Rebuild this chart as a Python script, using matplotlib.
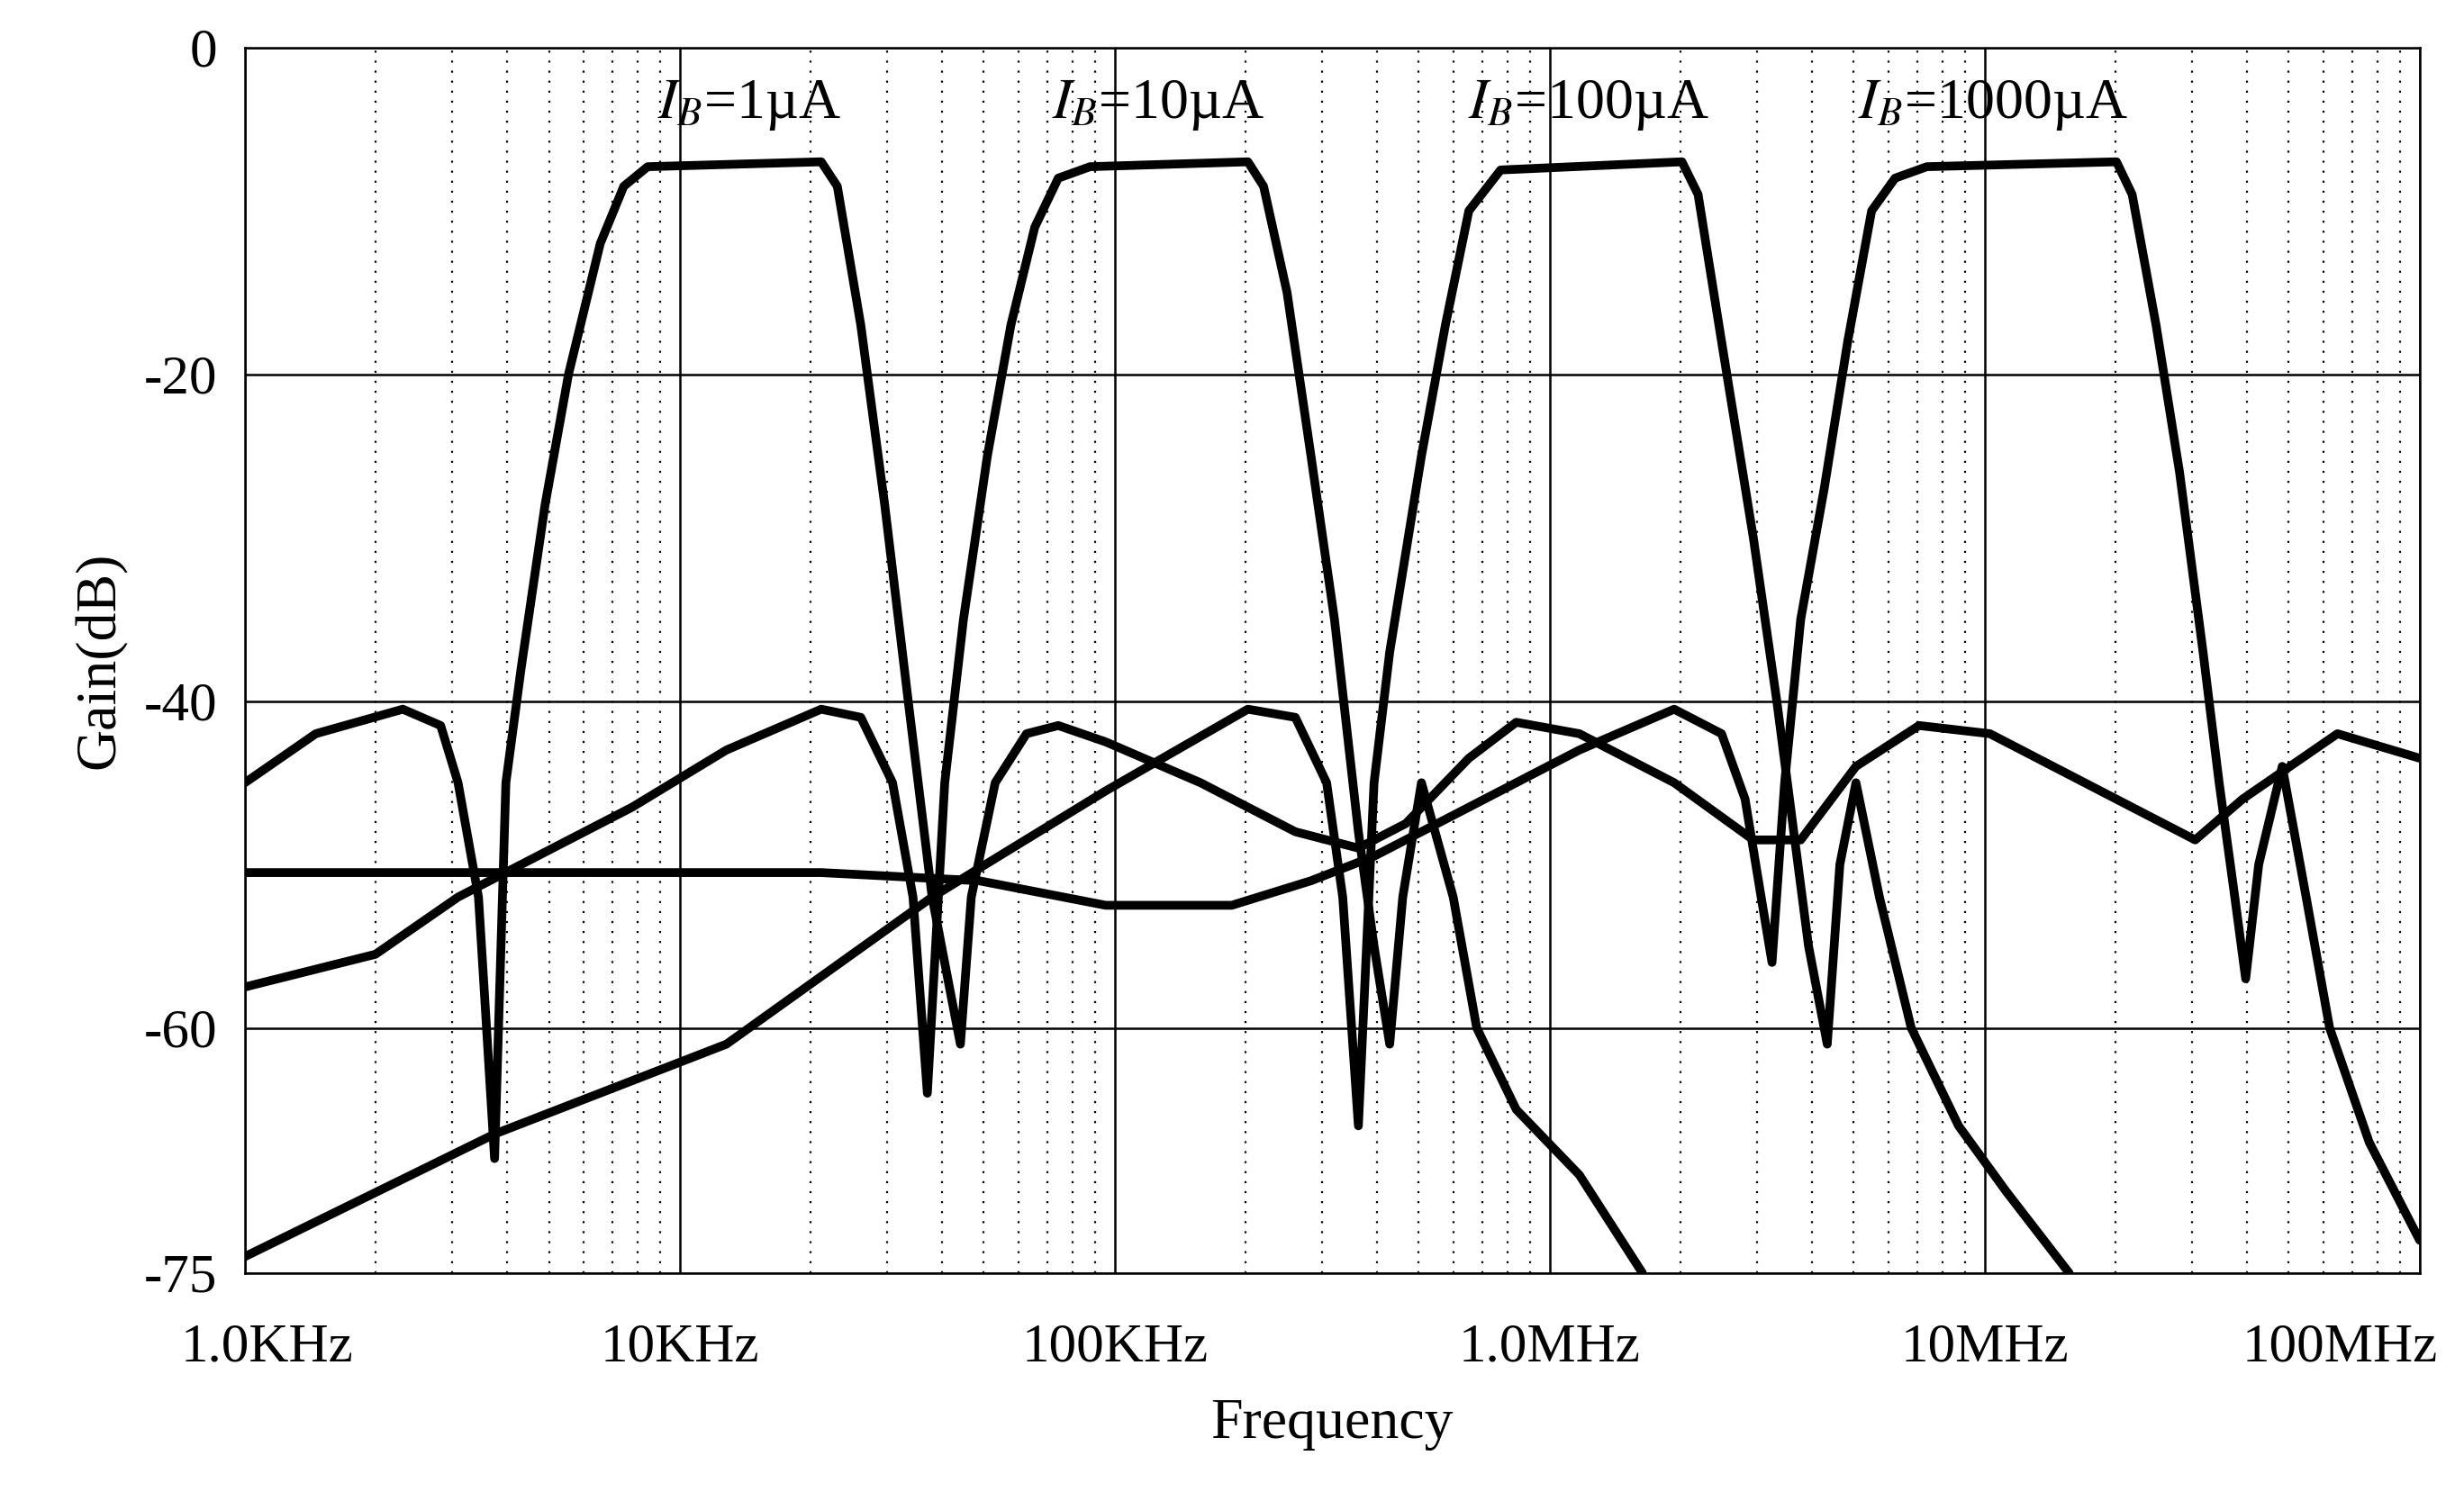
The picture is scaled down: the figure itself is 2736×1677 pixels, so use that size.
import numpy as np
import matplotlib
matplotlib.use("Agg")
import matplotlib.pyplot as plt
import matplotlib.transforms as mtransforms

plt.rcParams['font.family'] = ['Liberation Serif', 'DejaVu Serif']
plt.rcParams['mathtext.fontset'] = 'stix'

# log10(frequency in Hz) and gain in dB for each bias current
bp1_logf = [3.0, 3.163, 3.363, 3.45, 3.49, 3.537, 3.574, 3.600, 3.635, 3.690, 3.744, 3.817, 3.871, 3.926,
            4.325, 4.362, 4.416, 4.471, 4.525, 4.580, 4.616, 4.645, 4.670, 4.725, 4.797, 4.870, 4.979,
            5.197, 5.415, 5.560, 5.669, 5.814, 5.923, 6.068, 6.286, 6.468, 6.577, 6.704, 6.849, 7.012,
            7.266, 7.484, 7.593, 7.811, 8.0]
bp1_db = [-45, -42, -40.5, -41.5, -45, -52, -68, -45, -38, -28, -20, -12, -8.5, -7.3,
          -7, -8.5, -17, -28, -40, -52, -57, -61, -52, -45, -42, -41.5, -42.5,
          -45, -48, -49, -47.5, -43.5, -41.3, -42, -45, -48.5, -48.5, -44, -41.5, -42,
          -45.5, -48.5, -46, -42, -43.5]

bp2_logf = [3.0, 3.3, 3.49, 3.890, 4.107, 4.325, 4.416, 4.489, 4.536, 4.569, 4.609, 4.652, 4.707,
            4.761, 4.816, 4.870, 4.943, 5.306, 5.342, 5.396, 5.451, 5.505, 5.560, 5.596, 5.632,
            5.662, 5.705, 5.778, 5.832, 5.923, 6.068, 6.213]
bp2_db = [-57.5, -55.5, -52, -46.5, -43, -40.5, -41, -45, -52, -64, -45, -35, -25,
          -17, -11, -8, -7.3, -7, -8.5, -15, -25, -35, -48, -55, -61,
          -52, -45, -52, -60, -65, -69, -75]

bp3_logf = [3.0, 3.574, 4.107, 4.580, 4.979, 5.306, 5.415, 5.487, 5.524, 5.560, 5.596, 5.632, 5.705,
            5.760, 5.814, 5.887, 6.304, 6.341, 6.395, 6.468, 6.522, 6.595, 6.638, 6.667, 6.704,
            6.758, 6.831, 6.940, 7.049, 7.194]
bp3_db = [-74, -66.5, -61, -52, -45.5, -40.5, -41, -45, -52, -66, -45, -37, -25,
          -17, -10, -7.5, -7, -9, -18, -30, -40, -55, -61, -50, -45,
          -52, -60, -66, -70, -75]

bp4_logf = [3.0, 4.325, 4.688, 4.979, 5.269, 5.451, 5.596, 5.814, 6.068, 6.286, 6.395, 6.449, 6.486,
            6.511, 6.540, 6.577, 6.631, 6.685, 6.740, 6.794, 6.867, 7.303, 7.339, 7.394, 7.448,
            7.502, 7.539, 7.575, 7.600, 7.630, 7.684, 7.739, 7.793, 7.884, 8.0]
bp4_db = [-50.5, -50.5, -51, -52.5, -52.5, -51, -49.5, -46.5, -43, -40.5, -42, -46, -52,
          -56, -45, -35, -27, -18, -10, -8, -7.3, -7, -9, -17, -26,
          -37, -45, -52, -57, -50, -44, -52, -60, -67, -73]

labels = ['1µA', '10µA', '100µA', '1000µA']
label_logf = [4.16, 5.10, 6.09, 7.02]
xtick_labels = ['1.0KHz', '10KHz', '100KHz', '1.0MHz', '10MHz', '100MHz']
yticks = [0, -20, -40, -60, -75]

fig = plt.figure(figsize=(27.36, 16.77), dpi=100)
ax = fig.add_axes([0.0994, 0.157, 0.8826, 0.8116])

for lf, db in [(bp1_logf, bp1_db), (bp2_logf, bp2_db), (bp3_logf, bp3_db), (bp4_logf, bp4_db)]:
    ax.plot(10 ** np.array(lf), db, color='black', lw=7, solid_joinstyle='round', solid_capstyle='round')

ax.set_xscale('log')
ax.set_xlim(1e3, 1e8)
ax.set_ylim(-75, 0)
ax.set_xticks([1e3, 1e4, 1e5, 1e6, 1e7, 1e8])
ax.set_xticklabels(xtick_labels)
ax.set_yticks(yticks)
ax.set_yticklabels([str(v) for v in yticks])
ax.tick_params(axis='both', labelsize=44, length=0)
ax.tick_params(axis='x', pad=40)
ax.tick_params(axis='y', pad=22)
ax.tick_params(axis='x', which='minor', length=0)
ax.grid(True, which='major', color='black', lw=1.8)
ax.grid(True, which='minor', axis='x', color='black', lw=1.6, ls=(0, (1, 4)))
for s in ax.spines.values():
    s.set_linewidth(1.8)
ax.set_xlabel('Frequency', fontsize=46, labelpad=20)
ax.set_ylabel('Gain(dB)', fontsize=46, labelpad=14)

xl = ax.get_xticklabels()
xl[0].set_transform(xl[0].get_transform() + mtransforms.ScaledTranslation(0.25, 0, fig.dpi_scale_trans))
xl[-1].set_horizontalalignment('right')
xl[-1].set_transform(xl[-1].get_transform() + mtransforms.ScaledTranslation(0.2, 0, fig.dpi_scale_trans))

for lab, lf in zip(labels, label_logf):
    ax.text(10 ** lf, -3.5, r'$I_B$=' + lab, fontsize=46, ha='center', va='center')

fig.savefig('out.png', dpi=100)
